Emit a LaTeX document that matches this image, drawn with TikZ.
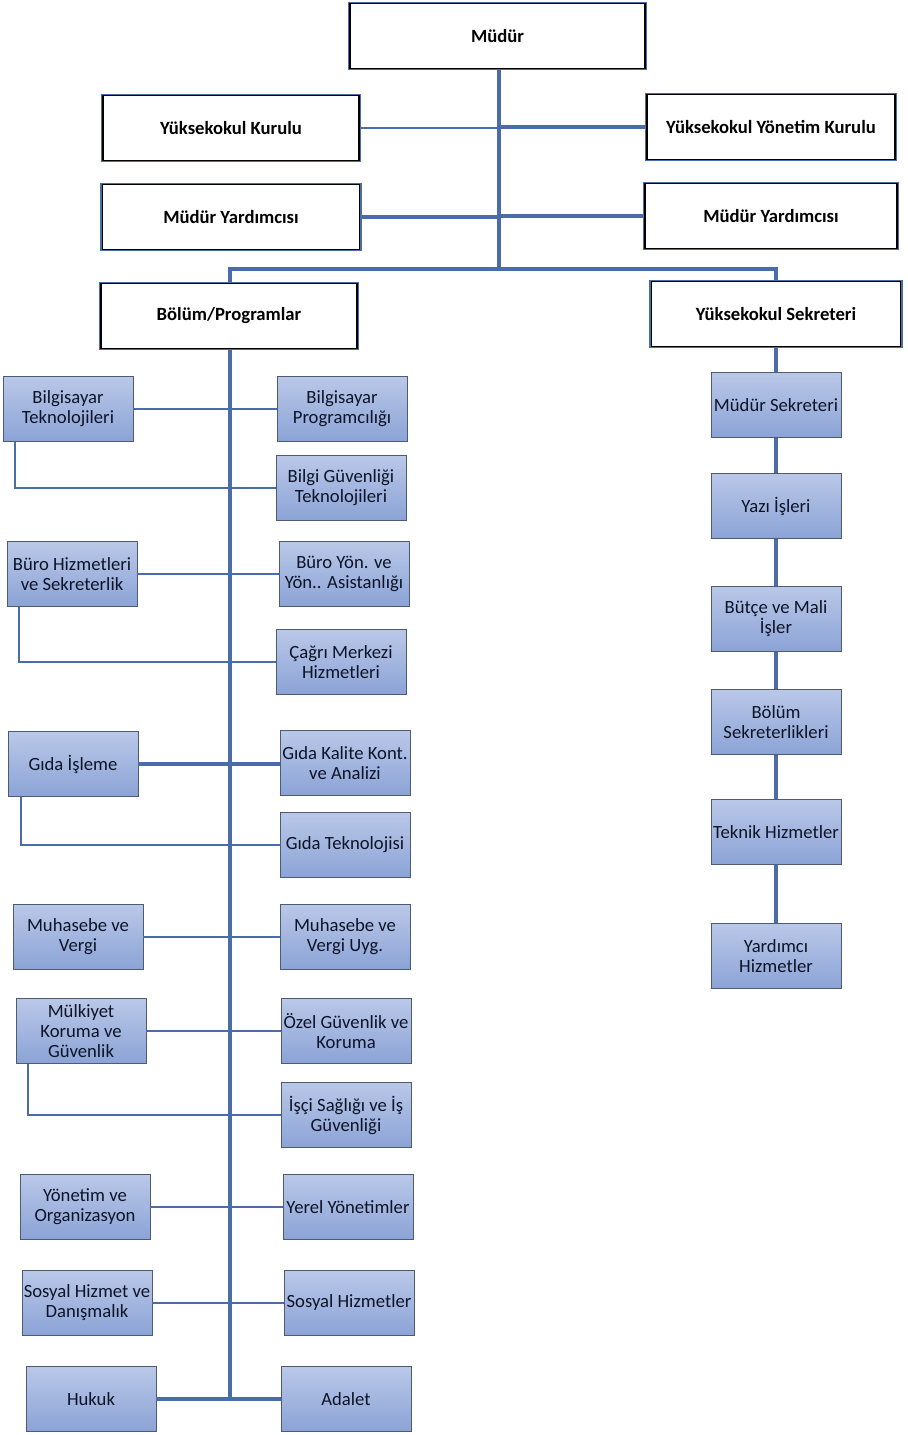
\documentclass[tikz,border=0pt]{standalone}
\usepackage{fontspec}
\setmainfont{Carlito}
\usetikzlibrary{positioning}
\definecolor{linec}{HTML}{4A6DAA}
\definecolor{boxtop}{HTML}{BAC8E8}
\definecolor{boxbot}{HTML}{8BA3D6}
\definecolor{boxedge}{HTML}{4F5B73}
\definecolor{textc}{HTML}{0E1428}

\begin{document}
\begin{tikzpicture}[
  x=0.75pt, y=-0.75pt,
  head/.style={draw=black, line width=1.1pt, preaction={draw=linec, line width=2.8pt}, fill=white, minimum height=48.75pt, inner sep=1pt, align=center, font=\fontsize{14}{16}\selectfont\bfseries},
  unit/.style={draw=boxedge, line width=0.6pt, top color=boxtop, bottom color=boxbot, minimum width=97.5pt, minimum height=48.75pt, inner sep=0pt, align=center, text=textc, font=\fontsize{14}{15}\selectfont},
  link/.style={draw=linec, line width=1.6pt},
  trunk/.style={draw=linec, line width=2.3pt}
]
\useasboundingbox (0,0) rectangle (907,1435);

% Management
\node[head, minimum width=221pt] (mudur)  at (497.5,36) {Müdür};
\node[head, minimum width=192pt] (kurul)  at (231,128)  {Yüksekokul Kurulu};
\node[head, minimum width=186pt] (ykurul) at (771,127)  {Yüksekokul Yönetim Kurulu};
\node[head, minimum width=193pt] (myrd1)  at (231,217)  {Müdür Yardımcısı};
\node[head, minimum width=189pt] (myrd2)  at (771,216)  {Müdür Yardımcısı};
\node[head, minimum width=192pt] (bolum)  at (229,316)  {Bölüm/Programlar};
\node[head, minimum width=187pt] (sekr)   at (776,314)  {Yüksekokul Sekreteri};

% Programs: left column
\node[unit] (bt) at (68,409)   {Bilgisayar\\Teknolojileri};
\node[unit] (bh) at (72,574)   {Büro Hizmetleri\\ve Sekreterlik};
\node[unit] (gi) at (73,764)   {Gıda İşleme};
\node[unit] (mv) at (78,937)   {Muhasebe ve\\Vergi};
\node[unit] (mk) at (81,1031)  {Mülkiyet\\Koruma ve\\Güvenlik};
\node[unit] (yo) at (85,1207)  {Yönetim ve\\Organizasyon};
\node[unit] (sd) at (87,1303)  {Sosyal Hizmet ve\\Danışmalık};
\node[unit] (hk) at (91,1399)  {Hukuk};

% Programs: right column
\node[unit] (bp)  at (342,409)  {Bilgisayar\\Programcılığı};
\node[unit] (bgt) at (341,488)  {Bilgi Güvenliği\\Teknolojileri};
\node[unit] (by)  at (344,574)  {Büro Yön. ve\\Yön.. Asistanlığı};
\node[unit] (cm)  at (341,662)  {Çağrı Merkezi\\Hizmetleri};
\node[unit] (gk)  at (345,763)  {Gıda Kalite Kont.\\ve Analizi};
\node[unit] (gt)  at (345,845)  {Gıda Teknolojisi};
\node[unit] (mvu) at (345,937)  {Muhasebe ve\\Vergi Uyg.};
\node[unit] (og)  at (346,1031) {Özel Güvenlik ve\\Koruma};
\node[unit] (isg) at (346,1115) {İşçi Sağlığı ve İş\\Güvenliği};
\node[unit] (yy)  at (348,1207) {Yerel Yönetimler};
\node[unit] (sh)  at (349,1303) {Sosyal Hizmetler};
\node[unit] (ad)  at (346,1399) {Adalet};

% Secretary units
\node[unit] (ms) at (776,405) {Müdür Sekreteri};
\node[unit] (yi) at (776,506) {Yazı İşleri};
\node[unit] (bm) at (776,619) {Bütçe ve Mali\\İşler};
\node[unit] (bs) at (776,722) {Bölüm\\Sekreterlikleri};
\node[unit] (th) at (776,832) {Teknik Hizmetler};
\node[unit] (yh) at (776,956) {Yardımcı\\Hizmetler};

% Upper tree
\coordinate (split) at (499,269);
\draw[trunk] (mudur.south -| split) -- (split);
\draw[link]  (kurul.east)  -- (kurul.east -| split);
\draw[trunk] (ykurul.west) -- (ykurul.west -| split);
\draw[trunk] (myrd1.east)  -- (myrd1.east -| split);
\draw[trunk] (myrd2.west)  -- (myrd2.west -| split);
\draw[trunk] (bolum.north -| 230,0) |- (split) -| (sekr.north);

% Program trunk and branches
\draw[trunk] (bolum.south -| 230,0) -- (230,1399);
\draw[link] (bt.east) -- (bt.east -| bp.west);
\draw[link] ([xshift=9pt]bt.south west) |- (bgt.west);
\draw[link] (bh.east) -- (bh.east -| by.west);
\draw[link] ([xshift=9pt]bh.south west) |- (cm.west);
\draw[trunk] (gi.east) -- (gi.east -| gk.west);
\draw[link] ([xshift=10pt]gi.south west) |- (gt.west);
\draw[link] (mv.east) -- (mv.east -| mvu.west);
\draw[link] (mk.east) -- (mk.east -| og.west);
\draw[link] ([xshift=9.5pt]mk.south west) |- (isg.west);
\draw[link] (yo.east) -- (yo.east -| yy.west);
\draw[link] (sd.east) -- (sd.east -| sh.west);
\draw[trunk] (hk.east) -- (hk.east -| ad.west);

% Secretary chain
\draw[trunk] (sekr) -- (ms) -- (yi) -- (bm) -- (bs) -- (th) -- (yh);

\end{tikzpicture}
\end{document}
